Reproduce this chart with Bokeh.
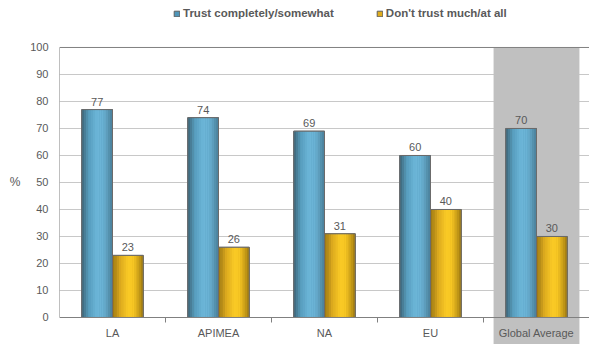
from bokeh.plotting import figure
from bokeh.models import (Range1d, FixedTicker, LinearAxis, Legend, LegendItem)
from bokeh.embed import file_html
from bokeh.resources import INLINE

categories = ["LA", "APIMEA", "NA", "EU", "Global Average"]
trust = [77, 74, 69, 60, 70]
distrust = [23, 26, 31, 40, 30]
series_names = ["Trust completely/somewhat", "Don't trust much/at all"]
y_ticks = [0, 10, 20, 30, 40, 50, 60, 70, 80, 90, 100]
y_unit = "%"
highlight = "Global Average"

FONT = "Liberation Sans"
TXT = "#595959"
AX = "#808080"

p = figure(width=589, height=344, output_backend="svg", toolbar_location=None,
           x_range=Range1d(0, len(categories)), y_range=Range1d(-10, 117.4),
           x_axis_type=None, min_border_left=59, min_border_right=0,
           min_border_top=0, min_border_bottom=0)
p.outline_line_color = None
p.background_fill_color = "white"
p.border_fill_color = "white"

# y axis
p.yaxis.ticker = FixedTicker(ticks=y_ticks)
p.yaxis.axis_line_color = None
p.yaxis.major_tick_line_color = None
p.yaxis.minor_tick_line_color = None
p.yaxis.major_tick_out = 0
p.yaxis.major_tick_in = 0
p.yaxis.minor_tick_out = 0
p.yaxis.minor_tick_in = 0
p.yaxis.major_label_text_font = FONT
p.yaxis.major_label_text_font_size = "11px"
p.yaxis.major_label_text_color = TXT
p.yaxis.major_label_standoff = 11
p.ygrid.ticker = FixedTicker(ticks=y_ticks[1:-1])
p.ygrid.grid_line_color = "#c8c8c8"
p.xgrid.grid_line_color = None

# unit label at the middle of the y scale
unit_axis = LinearAxis(ticker=FixedTicker(ticks=[50]))
unit_axis.major_label_overrides = {50: y_unit}
unit_axis.axis_line_color = None
unit_axis.major_tick_line_color = None
unit_axis.minor_tick_line_color = None
unit_axis.major_tick_out = 0
unit_axis.major_tick_in = 0
unit_axis.minor_tick_out = 0
unit_axis.minor_tick_in = 0
unit_axis.major_label_text_font = FONT
unit_axis.major_label_text_font_size = "12px"
unit_axis.major_label_text_color = TXT
unit_axis.major_label_standoff = 7
p.add_layout(unit_axis, "left")

n = len(categories)
xs = [i + 0.5 for i in range(n)]

# highlighted category background
hi = categories.index(highlight)
p.quad(left=[hi + 0.095], right=[hi + 0.905], bottom=[-10], top=[100],
       fill_color="#c0c0c0", line_color=None)

W = 0.29

def interp(stops, t):
    for (t0, c0), (t1, c1) in zip(stops[:-1], stops[1:]):
        if t0 <= t <= t1:
            f = (t - t0) / (t1 - t0) if t1 > t0 else 0
            return "#%02x%02x%02x" % tuple(int(round(a + (b - a) * f)) for a, b in zip(c0, c1))
    return "#%02x%02x%02x" % stops[-1][1]

blue_stops = [(0.0, (60, 100, 120)), (0.25, (90, 160, 192)), (0.5, (108, 182, 216)),
              (0.7, (106, 178, 212)), (1.0, (74, 126, 152))]
yellow_stops = [(0.0, (150, 115, 20)), (0.25, (218, 168, 30)), (0.5, (250, 202, 38)),
                (0.7, (246, 198, 35)), (1.0, (160, 122, 16))]

def draw_bars(offset, vals, stops, base_color):
    centers = [x + offset for x in xs]
    base = p.vbar(x=centers, top=vals, bottom=0, width=W, fill_color=base_color,
                  line_color="#5f5f5f", line_width=1)
    N = 14
    for k in range(N):
        t = (k + 0.5) / N
        cx = [c - W / 2 + (k + 0.5) * W / N for c in centers]
        p.vbar(x=cx, top=vals, bottom=0, width=W / N * 1.08,
               fill_color=interp(stops, t), line_color=None)
    p.vbar(x=centers, top=vals, bottom=0, width=W, fill_color=None,
           line_color="#6b6b6b", line_width=1)
    p.text(x=centers, y=vals, text=[str(v) for v in vals], text_align="center",
           text_baseline="bottom", y_offset=-4, text_font_size="11px",
           text_color=TXT, text_font={"value": FONT})
    return base

rb = draw_bars(-W / 2, trust, blue_stops, "#4f95b8")
ry = draw_bars(W / 2, distrust, yellow_stops, "#e0ad1c")

# frame lines
p.segment(x0=[0], y0=[0], x1=[0], y1=[100], line_color=AX, line_width=1)
p.segment(x0=[0], y0=[100], x1=[n], y1=[100], line_color=AX, line_width=1)

# x axes at y=0
tick_axis = LinearAxis(fixed_location=0, ticker=FixedTicker(ticks=list(range(1, n))))
tick_axis.axis_line_color = AX
tick_axis.major_tick_line_color = AX
tick_axis.major_tick_out = 5
tick_axis.major_tick_in = 0
tick_axis.minor_tick_line_color = None
tick_axis.major_label_text_color = None
tick_axis.major_label_text_font_size = "1px"
p.add_layout(tick_axis, "below")

lab_axis = LinearAxis(fixed_location=0, ticker=FixedTicker(ticks=xs))
lab_axis.axis_line_color = None
lab_axis.major_tick_line_color = None
lab_axis.minor_tick_line_color = None
lab_axis.major_tick_out = 0
lab_axis.major_tick_in = 0
lab_axis.minor_tick_out = 0
lab_axis.minor_tick_in = 0
lab_axis.major_label_overrides = {x: c for x, c in zip(xs, categories)}
lab_axis.major_label_text_font = FONT
lab_axis.major_label_text_font_size = "11px"
lab_axis.major_label_text_color = TXT
lab_axis.major_label_standoff = 10
p.add_layout(lab_axis, "below")

legend = Legend(items=[LegendItem(label=series_names[0], renderers=[rb]),
                       LegendItem(label=series_names[1], renderers=[ry])],
                orientation="horizontal", location=(114, 325))
legend.padding = 0
legend.margin = 0
legend.spacing = 42
legend.border_line_color = None
legend.background_fill_alpha = 0
legend.glyph_width = 7
legend.glyph_height = 7
legend.label_height = 10
legend.label_standoff = 3
legend.label_text_font = FONT
legend.label_text_font_style = "bold"
legend.label_text_font_size = "11.5px"
legend.label_text_color = TXT
p.add_layout(legend)

open("out.html", "w").write(file_html(p, INLINE))
